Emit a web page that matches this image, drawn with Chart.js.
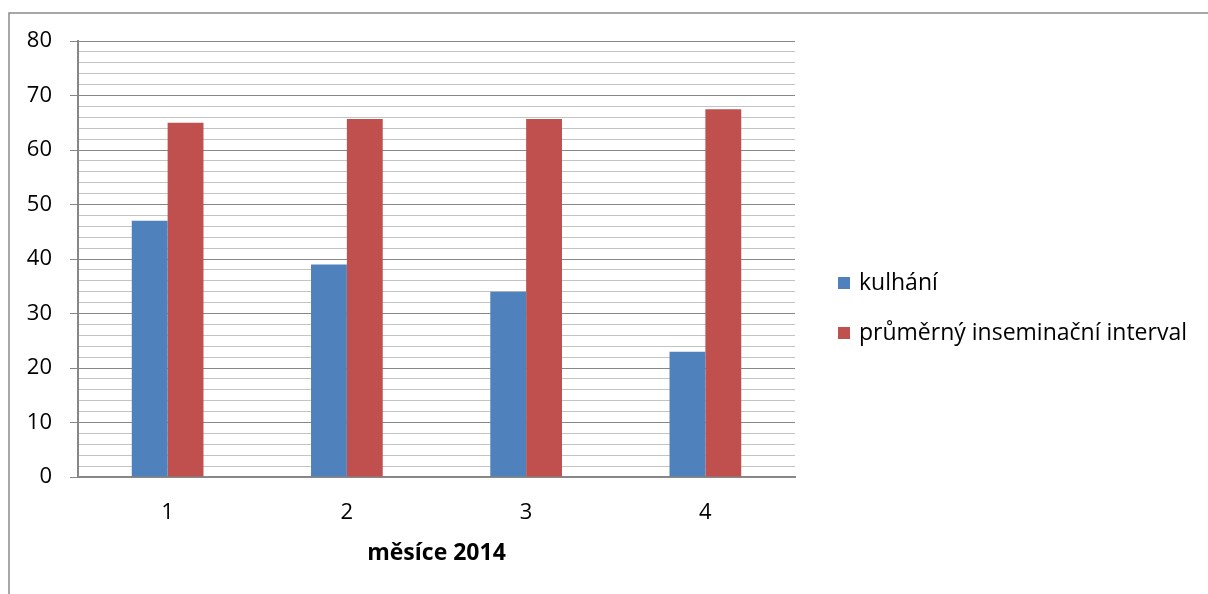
<!DOCTYPE html>
<html>
<head>
<meta charset="utf-8">
<script src="https://cdn.jsdelivr.net/npm/chart.js@4/dist/chart.umd.min.js"></script>
<style>
  html, body { margin: 0; padding: 0; background: #ffffff; }
  #wrap { position: relative; width: 1208px; height: 594px; }
</style>
</head>
<body>
<div id="wrap"><canvas id="c" width="1208" height="594"></canvas></div>
<script>
// Months of 2014 along the x axis
const categories = ['1', '2', '3', '4'];
// Series
const seriesNames = ['kulhání', 'průměrný inseminační interval'];
const kulhani = [47, 39, 34, 23];
const inseminacniInterval = [65, 65.7, 65.7, 67.5];
const seriesColors = ['#4f81bd', '#c0504d'];
// Value axis
const yMin = 0;
const yMax = 80;
const yMajorStep = 10;
const yMinorStep = 2;
const xTitle = 'měsíce 2014';

const FONT = '"Open Sans", "Liberation Sans", sans-serif';
const MAJOR = '#878787';
const MINOR = '#c3c3c3';

// Outer frame and right-hand legend
const decor = {
  id: 'decor',
  afterDraw(chart) {
    const ctx = chart.ctx;
    ctx.save();
    ctx.strokeStyle = '#8a8a8a';
    ctx.lineWidth = 1.5;
    ctx.beginPath();
    ctx.moveTo(9, 594);
    ctx.lineTo(9, 13);
    ctx.lineTo(1208, 13);
    ctx.stroke();

    const x0 = 838, box = 12, rows = [283, 333];
    ctx.font = '23px ' + FONT;
    ctx.textBaseline = 'middle';
    ctx.textAlign = 'left';
    chart.data.datasets.forEach((ds, i) => {
      const y = rows[i];
      ctx.fillStyle = ds.backgroundColor;
      ctx.fillRect(x0, y - box / 2, box, box);
      ctx.fillStyle = '#000000';
      ctx.fillText(ds.label, x0 + 21, y);
    });
    ctx.restore();
  }
};

new Chart(document.getElementById('c'), {
  type: 'bar',
  data: {
    labels: categories,
    datasets: [
      { label: seriesNames[0], data: kulhani, backgroundColor: seriesColors[0] },
      { label: seriesNames[1], data: inseminacniInterval, backgroundColor: seriesColors[1] }
    ]
  },
  options: {
    responsive: false,
    animation: false,
    events: [],
    layout: { padding: { top: 41, right: 413, bottom: 0, left: 0 } },
    datasets: { bar: { categoryPercentage: 0.4, barPercentage: 1.0 } },
    plugins: { legend: { display: false }, tooltip: { enabled: false } },
    scales: {
      x: {
        grid: { display: false },
        border: { display: true, color: MAJOR, width: 2 },
        ticks: { color: '#000000', font: { family: FONT, size: 22 }, padding: 15 },
        title: {
          display: true, text: xTitle, color: '#000000',
          font: { family: FONT, size: 23, weight: 'bold' },
          padding: { top: 0, bottom: 27 }
        },
        afterFit(s) { s.height = 117; }
      },
      y: {
        min: yMin, max: yMax,
        grid: {
          color: c => (c.tick && c.tick.value % yMajorStep === 0) ? MAJOR : MINOR,
          tickColor: c => (c.tick && c.tick.value % yMajorStep === 0) ? MAJOR : 'rgba(0,0,0,0)',
          lineWidth: 1,
          tickLength: 8
        },
        border: { display: true, color: MAJOR, width: 2 },
        ticks: {
          stepSize: yMinorStep,
          autoSkip: false,
          color: '#000000',
          font: { family: FONT, size: 22 },
          padding: 18,
          callback: v => (v % yMajorStep === 0 ? String(v) : '')
        },
        afterFit(s) { s.width = 78; }
      }
    }
  },
  plugins: [decor]
});
</script>
</body>
</html>
